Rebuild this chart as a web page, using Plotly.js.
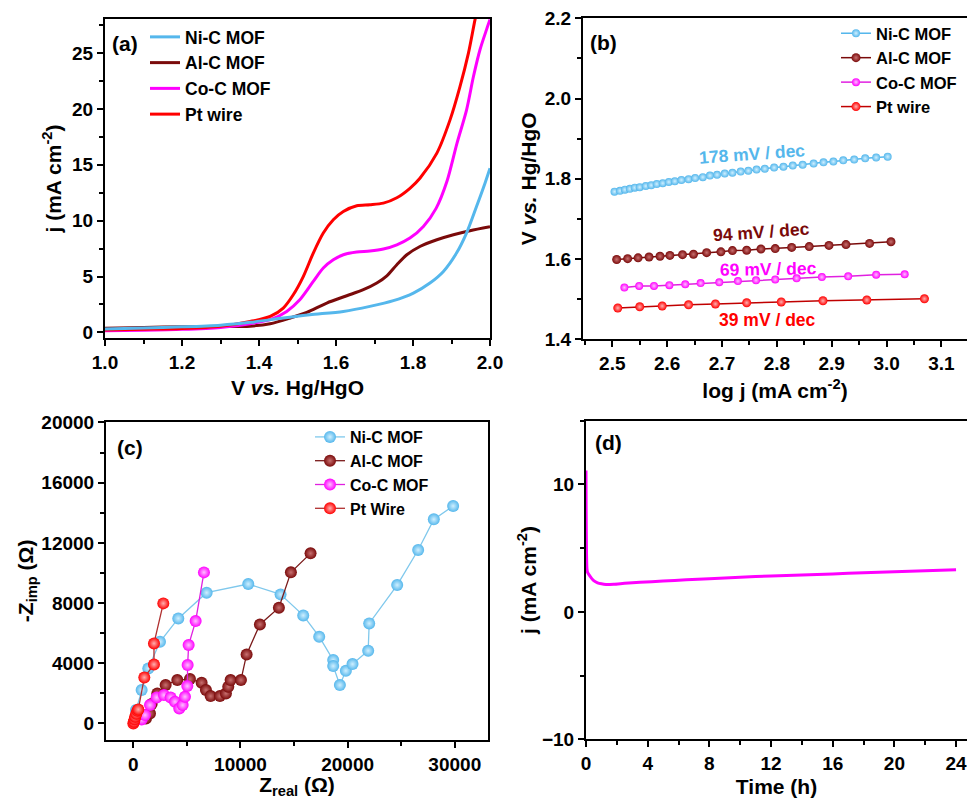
<!DOCTYPE html>
<html>
<head>
<meta charset="utf-8">
<script src="https://cdn.plot.ly/plotly-3.0.1.min.js"></script>
<style>html,body{margin:0;padding:0;background:#fff;}#chart{width:967px;height:799px;}</style>
</head>
<body>
<div id="chart"></div>
<script>
// ---------- Panel (a): LSV curves ----------
const seriesNames = ['Ni-C MOF', 'Al-C MOF', 'Co-C MOF', 'Pt wire'];
const V_ni = [1.0, 1.1, 1.2, 1.3, 1.377, 1.463, 1.532, 1.619, 1.688, 1.749, 1.801, 1.844, 1.879, 1.913, 1.939, 1.965, 1.987, 2.0];
const j_ni = [0.3, 0.4, 0.5, 0.65, 0.9, 1.29, 1.58, 1.88, 2.33, 2.84, 3.52, 4.42, 5.46, 7.1, 8.89, 11.27, 13.36, 14.7];
const V_al = [1.0, 1.1, 1.2, 1.3, 1.377, 1.429, 1.481, 1.524, 1.576, 1.628, 1.671, 1.706, 1.732, 1.758, 1.784, 1.818, 1.862, 1.905, 1.948, 2.0];
const j_al = [0.38, 0.45, 0.5, 0.52, 0.56, 0.78, 1.29, 1.79, 2.63, 3.28, 3.82, 4.42, 5.07, 6.06, 6.95, 7.69, 8.29, 8.74, 9.1, 9.45];
const V_co = [1.0, 1.1, 1.2, 1.3, 1.377, 1.429, 1.472, 1.506, 1.541, 1.567, 1.593, 1.619, 1.654, 1.688, 1.723, 1.758, 1.792, 1.827, 1.86, 1.888, 1.914, 1.939, 1.957, 1.974, 1.991, 2.0];
const j_co = [0.15, 0.2, 0.28, 0.45, 0.78, 1.14, 1.88, 2.92, 4.56, 5.76, 6.5, 6.95, 7.19, 7.28, 7.46, 7.84, 8.44, 9.48, 11.1, 13.5, 16.9, 19.9, 22.9, 25.3, 27.1, 28.0];
const V_pt = [1.0, 1.1, 1.2, 1.3, 1.377, 1.429, 1.463, 1.489, 1.515, 1.541, 1.567, 1.593, 1.619, 1.654, 1.688, 1.723, 1.758, 1.792, 1.818, 1.862, 1.896, 1.922, 1.944, 1.961, 1.968];
const j_pt = [0.22, 0.28, 0.35, 0.55, 0.98, 1.43, 2.18, 3.37, 5.0, 7.1, 8.89, 10.08, 10.82, 11.33, 11.42, 11.57, 12.05, 12.9, 13.8, 16.05, 19.0, 22.0, 25.0, 27.97, 29.0];

// ---------- Panel (b): Tafel plots ----------
const logj_ni = [2.504, 2.514, 2.523, 2.532, 2.541, 2.550, 2.561, 2.571, 2.581, 2.592, 2.603, 2.614, 2.626, 2.639, 2.651, 2.665, 2.678, 2.691, 2.705, 2.719, 2.734, 2.748, 2.763, 2.778, 2.795, 2.812, 2.829, 2.847, 2.867, 2.885, 2.903, 2.921, 2.941, 2.961, 2.981, 3.002];
const Vt_ni = [1.768, 1.770, 1.773, 1.775, 1.778, 1.779, 1.782, 1.784, 1.787, 1.789, 1.792, 1.794, 1.797, 1.799, 1.802, 1.804, 1.808, 1.810, 1.813, 1.815, 1.818, 1.820, 1.823, 1.825, 1.828, 1.830, 1.833, 1.835, 1.838, 1.841, 1.843, 1.846, 1.848, 1.851, 1.853, 1.855];
const logj_al = [2.508, 2.528, 2.547, 2.567, 2.587, 2.605, 2.628, 2.648, 2.672, 2.698, 2.719, 2.745, 2.771, 2.797, 2.827, 2.859, 2.895, 2.926, 2.969, 3.008];
const Vt_al = [1.599, 1.601, 1.603, 1.605, 1.607, 1.609, 1.611, 1.612, 1.616, 1.618, 1.621, 1.622, 1.625, 1.626, 1.629, 1.631, 1.634, 1.636, 1.639, 1.643];
const logj_co = [2.522, 2.549, 2.576, 2.604, 2.633, 2.661, 2.695, 2.729, 2.762, 2.797, 2.836, 2.882, 2.930, 2.981, 3.033];
const Vt_co = [1.529, 1.533, 1.533, 1.535, 1.537, 1.540, 1.542, 1.545, 1.547, 1.549, 1.552, 1.555, 1.557, 1.561, 1.562];
const logj_pt = [2.510, 2.550, 2.591, 2.639, 2.688, 2.745, 2.808, 2.884, 2.964, 3.069];
const Vt_pt = [1.478, 1.481, 1.483, 1.486, 1.488, 1.491, 1.493, 1.496, 1.498, 1.501];
const slopeLabels = ['178 mV / dec', '94 mV / dec', '69 mV / dec', '39 mV / dec'];

// ---------- Panel (c): Nyquist plots ----------
const eisNames = ['Ni-C MOF', 'Al-C MOF', 'Co-C MOF', 'Pt Wire'];
const zr_ni = [249, 777, 1399, 2487, 4197, 6840, 10726, 13742, 15856, 17348, 18654, 18654, 19276, 19835, 20457, 21918, 22012, 24623, 26582, 28043, 29846];
const zi_ni = [886, 2216, 3656, 5429, 6980, 8687, 9263, 8576, 7180, 5762, 4210, 3812, 2548, 3501, 3944, 4831, 6648, 9196, 11523, 13562, 14448];
const zr_al = [1181, 1555, 1710, 2238, 3016, 4104, 5285, 6373, 6778, 7213, 8083, 8643, 8861, 9078, 10042, 10571, 11814, 13586, 14706, 16540];
const zi_al = [332, 665, 1285, 1994, 2548, 2881, 2947, 2704, 2216, 1817, 1817, 1994, 2438, 2881, 2881, 4587, 6582, 7690, 10039, 11302];
const zr_co = [777, 1088, 1555, 2176, 2860, 3482, 3886, 4290, 4601, 4819, 5037, 5068, 5161, 5814, 6591];
const zi_co = [266, 554, 1219, 1728, 1884, 1728, 1440, 997, 1219, 1773, 2482, 3878, 5208, 6803, 10038];
const zr_pt = [0, 60, 120, 180, 280, 380, 466, 1026, 1928, 1928, 2798];
const zi_pt = [0, 120, 280, 450, 650, 850, 931, 3058, 3922, 5318, 7978];

// ---------- Panel (d): chronoamperometry ----------
const t_h = [0, 0.01, 0.03, 0.06, 0.1, 0.2, 0.35, 0.5, 0.75, 1.0, 1.3, 1.8, 2.5, 3.5, 5, 6.5, 8, 10, 12, 14, 16, 18, 20, 22, 24];
const j_t = [11.1, 8.0, 4.9, 3.4, 3.1, 2.9, 2.65, 2.45, 2.28, 2.2, 2.15, 2.17, 2.24, 2.32, 2.42, 2.52, 2.6, 2.72, 2.82, 2.9, 2.98, 3.06, 3.14, 3.22, 3.3];

const colors = ['#55B7EC', '#7A0A0A', '#FF00FF', '#FF0000'];
const lightColors = ['#CFEFFF', '#C87070', '#FFC0FF', '#FFB0B0'];
const lineColorsB = ['#55B7EC', '#7A0A0A', '#E020E0', '#C00000'];
const lineColorsC = ['#7FC8EC', '#7A1A1A', '#E020E0', '#B03030'];

const W = 967, H = 799;
const px = v => v / W;
const py = v => 1 - v / H;

const traces = [];
const lsvX = [V_ni, V_al, V_co, V_pt], lsvY = [j_ni, j_al, j_co, j_pt];
// draw Ni-C last (on top) as in the reference, but keep legend order via legendrank
[1, 2, 3, 0].forEach(i => {
  traces.push({x: lsvX[i], y: lsvY[i], name: seriesNames[i], type: 'scatter', mode: 'lines',
    line: {color: colors[i], width: 3, shape: 'spline', smoothing: 0.8},
    xaxis: 'x', yaxis: 'y', legend: 'legend', legendrank: 1000 + i});
});
const tafX = [logj_ni, logj_al, logj_co, logj_pt], tafY = [Vt_ni, Vt_al, Vt_co, Vt_pt];
const tafSize = [8, 9, 8, 9];
for (let i = 0; i < 4; i++) {
  traces.push({x: tafX[i], y: tafY[i], name: seriesNames[i], type: 'scatter', mode: 'lines+markers',
    line: {color: lineColorsB[i], width: 1.5},
    marker: {color: colors[i], size: tafSize[i], gradient: {type: 'radial', color: lightColors[i]}},
    xaxis: 'x2', yaxis: 'y2', legend: 'legend2', legendrank: 1000 + i});
}
const eisX = [zr_ni, zr_al, zr_co, zr_pt], eisY = [zi_ni, zi_al, zi_co, zi_pt];
for (let i = 0; i < 4; i++) {
  traces.push({x: eisX[i], y: eisY[i], name: eisNames[i], type: 'scatter', mode: 'lines+markers',
    line: {color: lineColorsC[i], width: 1.3},
    marker: {color: colors[i], size: 12, gradient: {type: 'radial', color: lightColors[i]}},
    xaxis: 'x3', yaxis: 'y3', legend: 'legend3', legendrank: 1000 + i});
}
traces.push({x: t_h, y: j_t, type: 'scatter', mode: 'lines', showlegend: false,
  line: {color: '#FF00FF', width: 3, shape: 'spline', smoothing: 0.6}, xaxis: 'x4', yaxis: 'y4'});

const FONT = 'Liberation Sans, Arial, sans-serif';
const tickFont = {family: FONT, size: 19, color: '#000', weight: 'bold'};
const titleFont = {family: FONT, size: 21, color: '#000', weight: 'bold'};
function ax(extra) {
  return Object.assign({
    showline: true, mirror: true, linecolor: '#000', linewidth: 2,
    ticks: 'outside', ticklen: 6, tickwidth: 2, tickcolor: '#000',
    showgrid: false, zeroline: false, tickfont: tickFont, fixedrange: true,
    ticklabeloverflow: 'allow'
  }, extra);
}
const minorTicks = d => ({dtick: d, ticklen: 4, tickwidth: 2, ticks: 'outside', tickcolor: '#000'});
const labelFont = {family: FONT, size: 21, weight: 'bold', color: '#000'};

const layout = {
  width: W, height: H,
  margin: {l: 0, r: 0, t: 0, b: 0},
  paper_bgcolor: '#fff', plot_bgcolor: '#fff',
  font: {family: FONT, color: '#000', weight: 'bold'},
  showlegend: true,
  xaxis: ax({domain: [px(105), px(490)], range: [1.0, 2.0], dtick: 0.2, tick0: 1.0, tickformat: '.1f', anchor: 'y',
    minor: minorTicks(0.1),
    title: {text: 'V <i>vs.</i> Hg/HgO', font: titleFont, standoff: 9}}),
  yaxis: ax({domain: [py(338), py(19)], range: [-0.5, 28.05], dtick: 5, tick0: 0, anchor: 'x',
    minor: minorTicks(2.5),
    title: {text: 'j (mA cm<sup>-2</sup>)', font: titleFont, standoff: 5}}),
  xaxis2: ax({domain: [px(583), 1], range: [2.4466, 3.1466], dtick: 0.1, tick0: 2.5, tickformat: '.1f', anchor: 'y2',
    minor: minorTicks(0.05),
    title: {text: 'log j (mA cm<sup>-2</sup>)', font: titleFont, standoff: 10}}),
  yaxis2: ax({domain: [py(339.3), py(18.3)], range: [1.4, 2.2], dtick: 0.2, tick0: 1.4, tickformat: '.1f', anchor: 'x2',
    minor: minorTicks(0.1),
    title: {text: 'V <i>vs.</i> Hg/HgO', font: titleFont, standoff: 2}}),
  xaxis3: ax({domain: [px(106), px(488)], range: [-2550, 33100], dtick: 10000, tick0: 0, tickformat: 'd', anchor: 'y3',
    minor: minorTicks(5000),
    title: {text: 'Z<sub>real</sub> (Ω)', font: titleFont, standoff: 9}}),
  yaxis3: ax({domain: [py(740), py(421.7)], range: [-1100, 20050], dtick: 4000, tick0: 0, tickformat: 'd', anchor: 'x3',
    minor: minorTicks(2000),
    title: {text: '-Z<sub>imp</sub> (Ω)', font: titleFont, standoff: 2}}),
  xaxis4: ax({domain: [px(586), 1], range: [0, 24.71], dtick: 4, tick0: 0, anchor: 'y4',
    minor: minorTicks(2),
    title: {text: 'Time (h)', font: titleFont, standoff: 6}}),
  yaxis4: ax({domain: [py(739.3), py(420.7)], range: [-10, 15], dtick: 10, tick0: -10, anchor: 'x4',
    minor: minorTicks(5),
    title: {text: 'j (mA cm<sup>-2</sup>)', font: titleFont, standoff: 0}}),
  legend: {x: px(145), y: py(19), xanchor: 'left', yanchor: 'top', bgcolor: 'rgba(0,0,0,0)', borderwidth: 0,
    font: {family: FONT, size: 17.5, color: '#000', weight: 'bold'}},
  legend2: {x: px(836), y: py(16), xanchor: 'left', yanchor: 'top', bgcolor: 'rgba(0,0,0,0)', borderwidth: 0,
    font: {family: FONT, size: 16.5, color: '#000', weight: 'bold'}},
  legend3: {x: px(310), y: py(420), xanchor: 'left', yanchor: 'top', bgcolor: 'rgba(0,0,0,0)', borderwidth: 0,
    font: {family: FONT, size: 16, color: '#000', weight: 'bold'}},
  annotations: [
    {text: '(a)', xref: 'paper', yref: 'paper', x: px(125), y: py(43), xanchor: 'center', yanchor: 'middle', showarrow: false, font: labelFont},
    {text: '(b)', xref: 'paper', yref: 'paper', x: px(603), y: py(42), xanchor: 'center', yanchor: 'middle', showarrow: false, font: labelFont},
    {text: '(c)', xref: 'paper', yref: 'paper', x: px(130), y: py(447), xanchor: 'center', yanchor: 'middle', showarrow: false, font: labelFont},
    {text: '(d)', xref: 'paper', yref: 'paper', x: px(608), y: py(443), xanchor: 'center', yanchor: 'middle', showarrow: false, font: labelFont},
    {text: slopeLabels[0], xref: 'x2', yref: 'y2', x: 2.754, y: 1.861, textangle: -4, showarrow: false, font: {family: FONT, size: 17.5, weight: 'bold', color: '#55B7EC'}},
    {text: slopeLabels[1], xref: 'x2', yref: 'y2', x: 2.772, y: 1.668, textangle: -4, showarrow: false, font: {family: FONT, size: 17.5, weight: 'bold', color: '#7A0A0A'}},
    {text: slopeLabels[2], xref: 'x2', yref: 'y2', x: 2.784, y: 1.574, textangle: -1, showarrow: false, font: {family: FONT, size: 17.5, weight: 'bold', color: '#FF00FF'}},
    {text: slopeLabels[3], xref: 'x2', yref: 'y2', x: 2.783, y: 1.448, textangle: 0, showarrow: false, font: {family: FONT, size: 17.5, weight: 'bold', color: '#FF0000'}}
  ]
};

Plotly.newPlot('chart', traces, layout, {staticPlot: true, displayModeBar: false});
</script>
</body>
</html>
